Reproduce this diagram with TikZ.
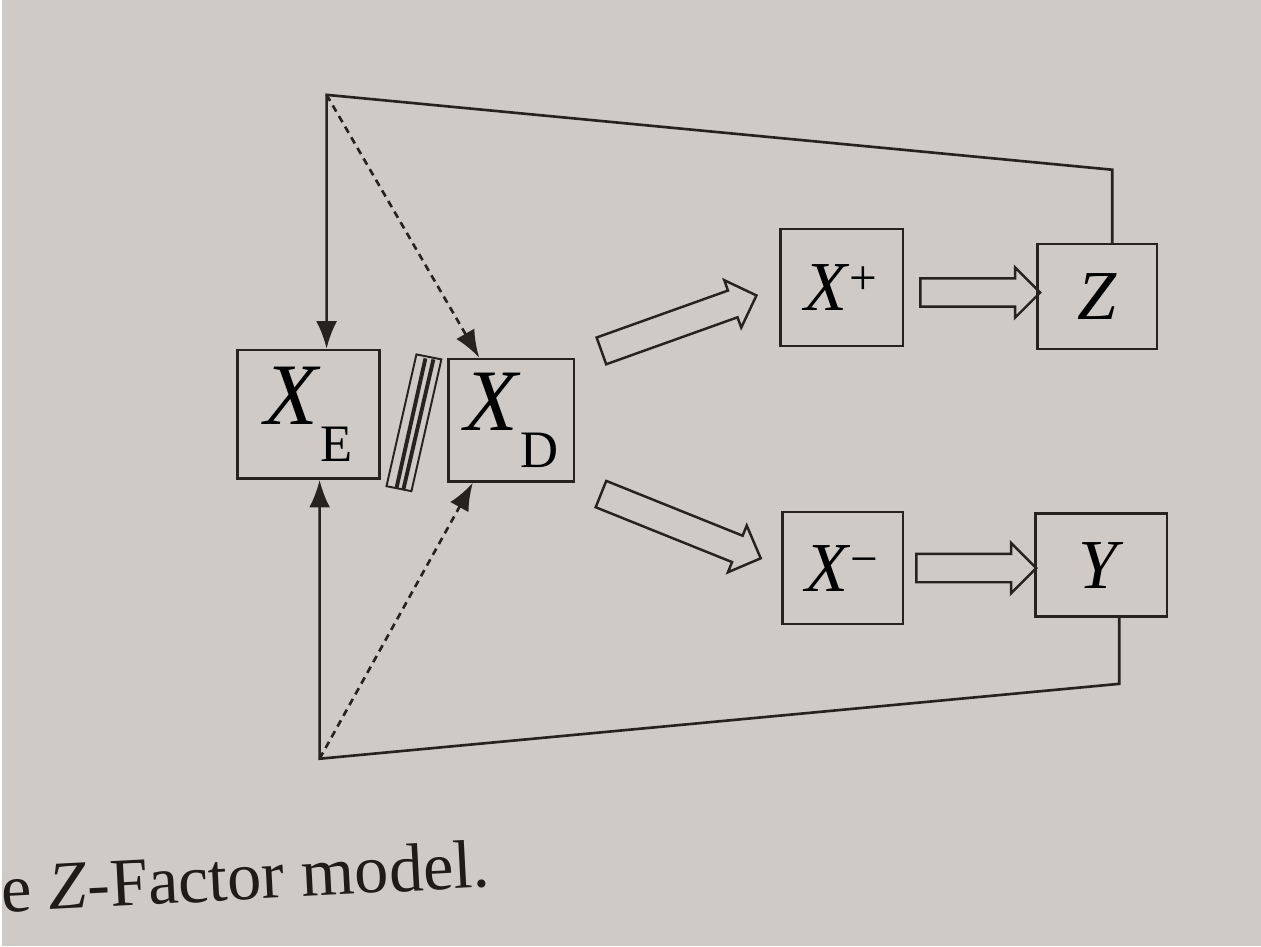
\documentclass[tikz,border=0pt]{standalone}
\usepackage{fontspec}
\setmainfont{Liberation Serif}
\usetikzlibrary{arrows.meta, positioning, calc, shapes.arrows}
\definecolor{paper}{RGB}{207,202,198}
\definecolor{ink}{RGB}{38,34,31}
\newcommand{\lowidx}[1]{\raisebox{-0.42em}{\fontsize{30}{32}\selectfont #1}}

\begin{document}
\begin{tikzpicture}[x=0.02cm, y=-0.02cm,
    factorbox/.style={rectangle, draw=ink, line width=1.5pt, inner sep=0pt, font=\fontsize{40}{44}\selectfont},
    bigbox/.style={factorbox, font=\fontsize{50}{54}\selectfont},
    hollow/.style={single arrow, draw=ink, line width=1.4pt, inner sep=0.26cm, single arrow head extend=0.22cm, minimum height=#1, sloped, midway},
    link/.style={draw=ink, line width=1.5pt, -{Latex[length=5.5mm, width=4.2mm]}},
    dashlink/.style={link, dash pattern=on 4pt off 3pt}
]
% paper
\fill[paper] (0,0) rectangle (1261,948);

% Two states on the left
\node[bigbox, minimum width=2.84cm, minimum height=2.58cm] (XE) at (307,415) {\textit{X}\lowidx{E}};
\node[bigbox, minimum width=2.52cm, minimum height=2.46cm] (XD) at (510,421) {\textit{X}\lowidx{D}};

% Outcomes on the right
\node[factorbox, minimum width=2.46cm, minimum height=2.34cm] (Xp) at (841,288) {\textit{X}\textsuperscript{+}};
\node[factorbox, minimum width=2.40cm, minimum height=2.10cm] (Z) at (1097,297) {\textit{Z}};
\node[factorbox, minimum width=2.42cm, minimum height=2.24cm] (Xm) at (842,569) {\textit{X}\textsuperscript{−}};
\node[factorbox, minimum width=2.64cm, minimum height=2.06cm] (Y) at (1101,566) {\textit{Y}};

% Separator between the two states
\draw[ink, line width=1.1pt] (415,355) -- (440,360) -- (410,492) -- (385,487) -- cycle;
\draw[ink, line width=2.2pt] (424,359) -- (395,489);
\draw[ink, line width=2.2pt] (432,360) -- (402,490);

% Hollow arrows
\path ($(XD.north east)+(-4,4)$) -- ($(Xp.west)+(-6,2)$) node[hollow=3.3cm] (upmove) {};
\path ($(XD.south east)+(-2,0)$) -- ($(Xm.west)+(-6,-4)$) node[hollow=3.45cm] (downmove) {};
\path ($(Xp.east)+(0,5)$) -- ($(Xp.east -| Z.west)+(6,5)$) node[hollow=2.4cm] (toz) {};
\path (Xm.east) -- (Xm.east -| Y.west) node[hollow=2.4cm] (toy) {};

% Feedback loops
\coordinate (topcorner) at (325,95);
\coordinate (zbend) at (1112,170);
\coordinate (botcorner) at (318,760);
\coordinate (ybend) at (1119,685);

\draw[link] (Z.north -| zbend) -- (zbend) -- (topcorner) -- (topcorner |- XE.north);
\draw[dashlink] (topcorner) -- ($(XD.north)!0.5!(XD.north west)$);
\draw[link] (Y.south -| ybend) -- (ybend) -- (botcorner) -- (botcorner |- XE.south);
\draw[dashlink] (botcorner) -- ($(XD.south)!0.6!(XD.south west)$);

% Caption
\node[font=\fontsize{39}{44}\selectfont, text=ink!80!black, anchor=base west, rotate=3, inner sep=0pt] (caption) at (0,914) {e \textit{Z}-Factor model.};
\end{tikzpicture}
\end{document}
